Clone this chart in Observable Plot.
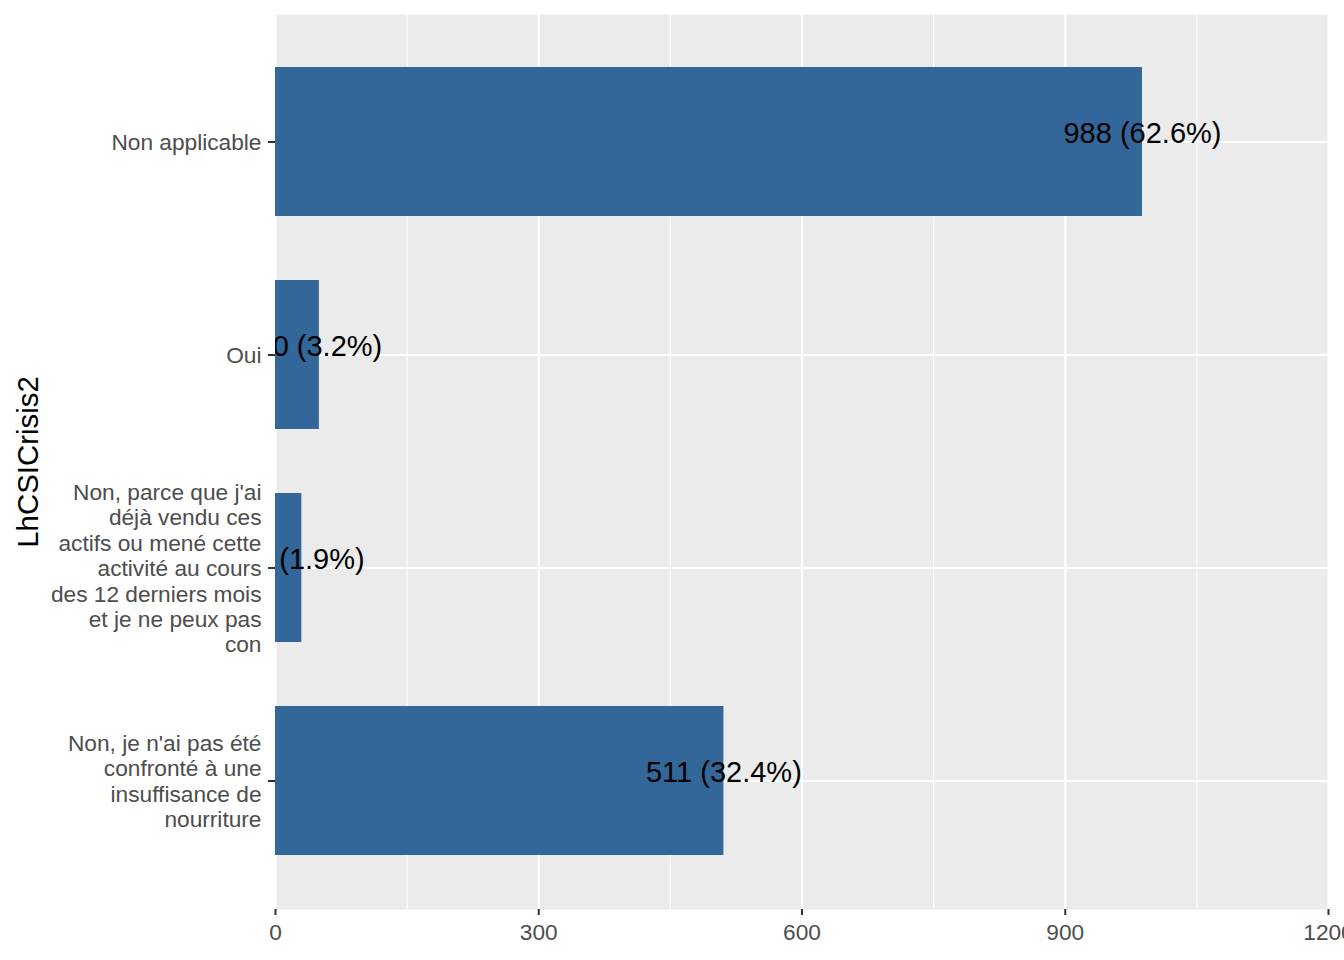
<!DOCTYPE html>
<html>
<head>
<meta charset="utf-8">
<script src="https://cdn.jsdelivr.net/npm/d3@7"></script>
<script src="https://cdn.jsdelivr.net/npm/@observablehq/plot@0.6"></script>
<style>
  html, body { margin: 0; padding: 0; background: white; }
</style>
</head>
<body>
<div id="chart"></div>
<script>
const categories = [
  "Non applicable",
  "Oui",
  "Non, parce que j'ai déjà vendu ces actifs ou mené cette activité au cours des 12 derniers mois et je ne peux pas con",
  "Non, je n'ai pas été confronté à une insuffisance de nourriture"
];
const categoryLabels = [
  "Non applicable",
  "Oui",
  "Non, parce que j'ai\ndéjà vendu ces\nactifs ou mené cette\nactivité au cours\ndes 12 derniers mois\net je ne peux pas\ncon",
  "Non, je n'ai pas été\nconfronté à une\ninsuffisance de\nnourriture"
];
const counts = [988, 50, 30, 511];
const percents = ["62.6%", "3.2%", "1.9%", "32.4%"];
const xTicks = [0, 300, 600, 900, 1200];
const xMinorTicks = [150, 450, 750, 1050];
const axisTitle = "LhCSICrisis2";

const data = categories.map((c, i) => ({category: c, count: counts[i], label: `${counts[i]} (${percents[i]})`}));
const labelOf = new Map(categories.map((c, i) => [c, categoryLabels[i]]));

const chart = Plot.plot({
  width: 1344,
  height: 960,
  marginLeft: 275,
  marginRight: 16,
  marginTop: 14,
  marginBottom: 51,
  style: {fontFamily: "'Liberation Sans', Arial, sans-serif", background: "white"},
  x: {domain: [0, 1200], axis: null},
  y: {domain: categories, paddingInner: 0.3, paddingOuter: 0.25, axis: null},
  marks: [
    Plot.frame({fill: "#EBEBEB", stroke: null}),
    Plot.gridX(xMinorTicks, {stroke: "white", strokeOpacity: 1, strokeWidth: 1.1}),
    Plot.gridX(xTicks, {stroke: "white", strokeOpacity: 1, strokeWidth: 2.2}),
    Plot.gridY(categories, {stroke: "white", strokeOpacity: 1, strokeWidth: 2.2}),
    Plot.barX(data, {x: "count", y: "category", fill: "#336699"}),
    Plot.text(data, {x: "count", y: "category", text: "label", fontSize: 29, fill: "black", lineAnchor: "bottom", dy: 1, clip: true}),
    Plot.axisX(xTicks, {tickSize: 6, tickPadding: 8, fontSize: 22.7, fill: "#4D4D4D", stroke: "#333333", strokeWidth: 2, tickFormat: (d) => String(d), label: null}),
    Plot.axisY(categories, {tickSize: 7, tickPadding: 7, fontSize: 22.7, fill: "#4D4D4D", stroke: "#333333", strokeWidth: 2, lineHeight: 1.12, tickFormat: (d) => labelOf.get(d), label: null}),
    Plot.text([axisTitle], {frameAnchor: "left", textAnchor: "middle", dx: -247, rotate: -90, fontSize: 29.4, fill: "black"})
  ]
});
document.getElementById("chart").appendChild(chart);
</script>
</body>
</html>
